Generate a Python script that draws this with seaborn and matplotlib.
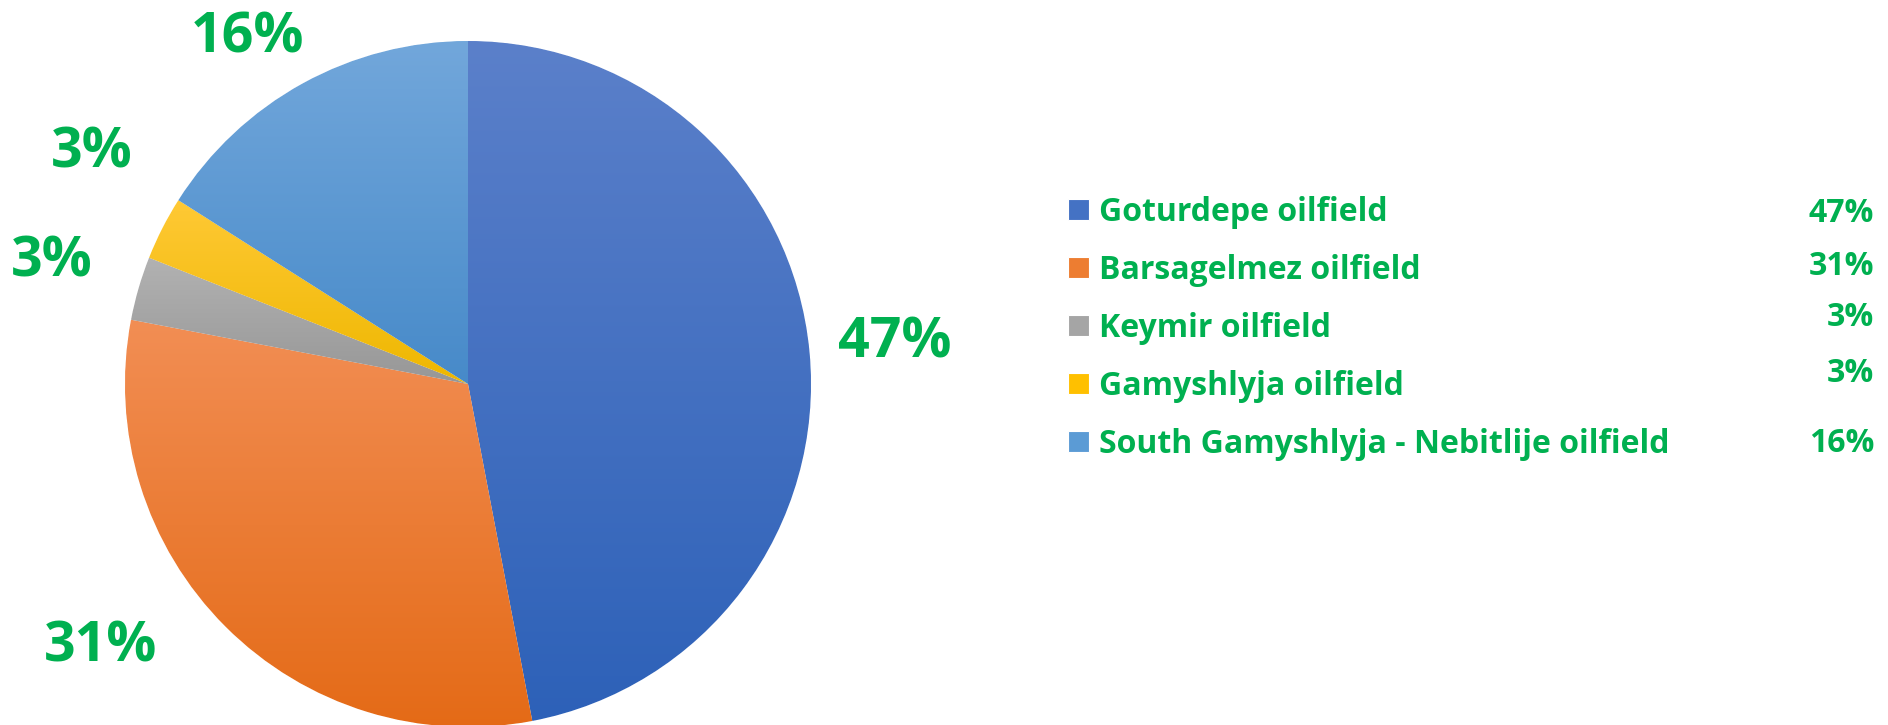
import matplotlib
matplotlib.use('Agg')
import matplotlib.pyplot as plt
import seaborn as sns
import numpy as np
from matplotlib.colors import LinearSegmentedColormap

sns.set_theme(style='white')

fields = ['Goturdepe oilfield', 'Barsagelmez oilfield', 'Keymir oilfield',
          'Gamyshlyja oilfield', 'South Gamyshlyja - Nebitlije oilfield']
shares = [47, 31, 3, 3, 16]
pct_labels = ['47%', '31%', '3%', '3%', '16%']
# (top colour, bottom colour) of each slice gradient
top_colors = ['#5b80ca', '#f28e54', '#b2b2b2', '#ffc935', '#72a7db']
bottom_colors = ['#2d61b8', '#e46a16', '#979797', '#eeb700', '#478ac9']
mid_colors = ['#4472c4', '#ed7d31', '#a5a5a5', '#ffc000', '#5b9bd5']

green = '#00b050'
font = ['Open Sans', 'DejaVu Sans']

W, H = 1888, 725
fig = plt.figure(figsize=(W / 100, H / 100), dpi=100)
ax = fig.add_axes([0, 0, 1, 1])

wedges, texts = ax.pie(shares, colors=mid_colors, startangle=90, counterclock=False,
                       center=(468, 341), radius=343, frame=True,
                       labels=pct_labels, labeldistance=1.25,
                       wedgeprops=dict(edgecolor='white', linewidth=0.8))

# vertical gradient inside each slice
for w, c0, c1 in zip(wedges, top_colors, bottom_colors):
    verts = w.get_patch_transform().transform(w.get_path().vertices)
    x0, x1 = verts[:, 0].min(), verts[:, 0].max()
    y0, y1 = verts[:, 1].min(), verts[:, 1].max()
    cmap = LinearSegmentedColormap.from_list('g', [c1, c0])
    grad = np.linspace(0, 1, 256).reshape(-1, 1)
    im = ax.imshow(grad, extent=[x0, x1, y0, y1], origin='lower', cmap=cmap,
                   aspect='auto', zorder=w.get_zorder() + 0.1, interpolation='bilinear')
    im.set_clip_path(w)

ax.set_xlim(0, W)
ax.set_ylim(0, H)
ax.set_aspect('auto')
ax.axis('off')

# data label positions (moved by hand in the original)
label_pos = [(895, H - 343), (101, H - 647), (52, H - 262), (92, H - 153), (247, H - 38)]
for t, (x, y) in zip(texts, label_pos):
    t.set_position((x, y))
    t.set_ha('center')
    t.set_va('center')
    t.set_color(green)
    t.set_fontsize(40)
    t.set_fontweight('bold')
    t.set_family(font)

leg = ax.legend(wedges, fields, loc='upper left', bbox_to_anchor=(1068 / W, 1 - 196 / H),
                frameon=False, handlelength=0.65, handleheight=0.65, handletextpad=0.33,
                labelspacing=0.78, borderaxespad=0, borderpad=0,
                prop=dict(family=font, weight='bold', size=23))
for txt in leg.get_texts():
    txt.set_color(green)

pct_rows = [213, 266, 317, 373, 443]
for p, y in zip(pct_labels, pct_rows):
    ax.text(1874, H - y, p, ha='right', va='center', color=green,
            fontsize=23, fontweight='bold', family=font)

fig.savefig('out.png', dpi=100)
